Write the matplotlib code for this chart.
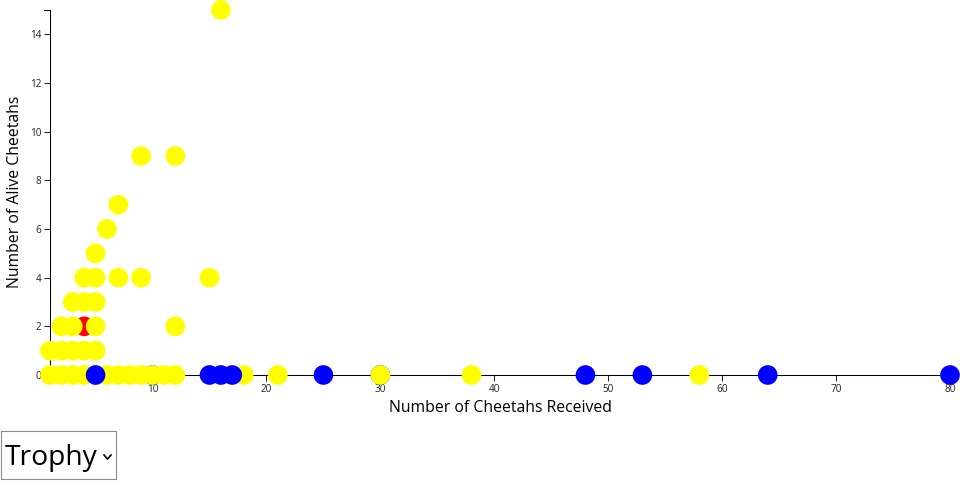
import matplotlib
matplotlib.use("Agg")
import matplotlib.pyplot as plt
from matplotlib.patches import Rectangle
from matplotlib.lines import Line2D

plt.rcParams['font.family'] = ['Open Sans', 'DejaVu Sans']

# points in drawing order (later ones sit on top)
received = [4, 10, 30,
            1, 2, 3, 4, 5, 6, 7, 8, 9, 10, 11, 12, 18, 21, 30, 38, 58,
            1, 2, 3, 4, 5,
            2, 3, 5, 12,
            3, 4, 5,
            4, 5, 7, 9, 15,
            5, 6, 7, 9, 12, 16,
            5, 15, 16, 17, 25, 48, 53, 64, 80]
alive = [2, 0, 0,
         0, 0, 0, 0, 0, 0, 0, 0, 0, 0, 0, 0, 0, 0, 0, 0, 0,
         1, 1, 1, 1, 1,
         2, 2, 2, 2,
         3, 3, 3,
         4, 4, 4, 4, 4,
         5, 6, 7, 9, 9, 15,
         0, 0, 0, 0, 0, 0, 0, 0, 0]
group = (['red', 'blue', 'blue']
         + ['yellow'] * 17
         + ['yellow'] * 5
         + ['yellow'] * 4
         + ['yellow'] * 3
         + ['yellow'] * 5
         + ['yellow'] * 6
         + ['blue'] * 9)
palette = {'red': '#ff0000', 'blue': '#0000ff', 'yellow': '#ffff00'}

x_ticks = [10, 20, 30, 40, 50, 60, 70, 80]
y_ticks = [0, 2, 4, 6, 8, 10, 12, 14]

W, H = 960, 500
fig = plt.figure(figsize=(W / 100, H / 100), dpi=100)
ax = fig.add_axes([50 / W, (H - 375) / H, 900 / W, 365 / H])

ax.scatter(received, alive, s=200, c=[palette[g] for g in group],
           linewidths=0, clip_on=False, zorder=3)

ax.set_xlim(1, 80)
ax.set_ylim(0, 15)
ax.set_xticks(x_ticks)
ax.set_yticks(y_ticks)
ax.tick_params(length=4.3, width=0.75, labelsize=7.2, pad=2, colors='#222222')
for side in ['top', 'right']:
    ax.spines[side].set_visible(False)
for side in ['left', 'bottom']:
    ax.spines[side].set_linewidth(0.75)
    ax.spines[side].set_zorder(2)

# d3-style outer tick at the top of the y axis
ax.plot([-0.0067, 0], [1, 1], transform=ax.transAxes, color='black',
        lw=0.75, clip_on=False)

fig.text(500 / W, 1 - 408 / H, 'Number of Cheetahs Received', ha='center',
         va='center', fontsize=11.3)
fig.text(15 / W, 1 - 192 / H, 'Number of Alive Cheetahs', ha='center',
         va='center', rotation=90, fontsize=11.3)

# dropdown selector
fig.patches.append(Rectangle((1 / W, 1 - 479 / H), 115 / W, 48 / H,
                             transform=fig.transFigure, fill=False,
                             edgecolor='#8a8a8a', linewidth=0.8))
fig.text(5 / W, 1 - 458 / H, 'Trophy', ha='left', va='center', fontsize=20.3)
fig.lines.append(Line2D([104 / W, 107.5 / W, 111 / W],
                        [1 - 455 / H, 1 - 459 / H, 1 - 455 / H],
                        transform=fig.transFigure, color='black', lw=1.2))

fig.savefig('out.png', dpi=100)
